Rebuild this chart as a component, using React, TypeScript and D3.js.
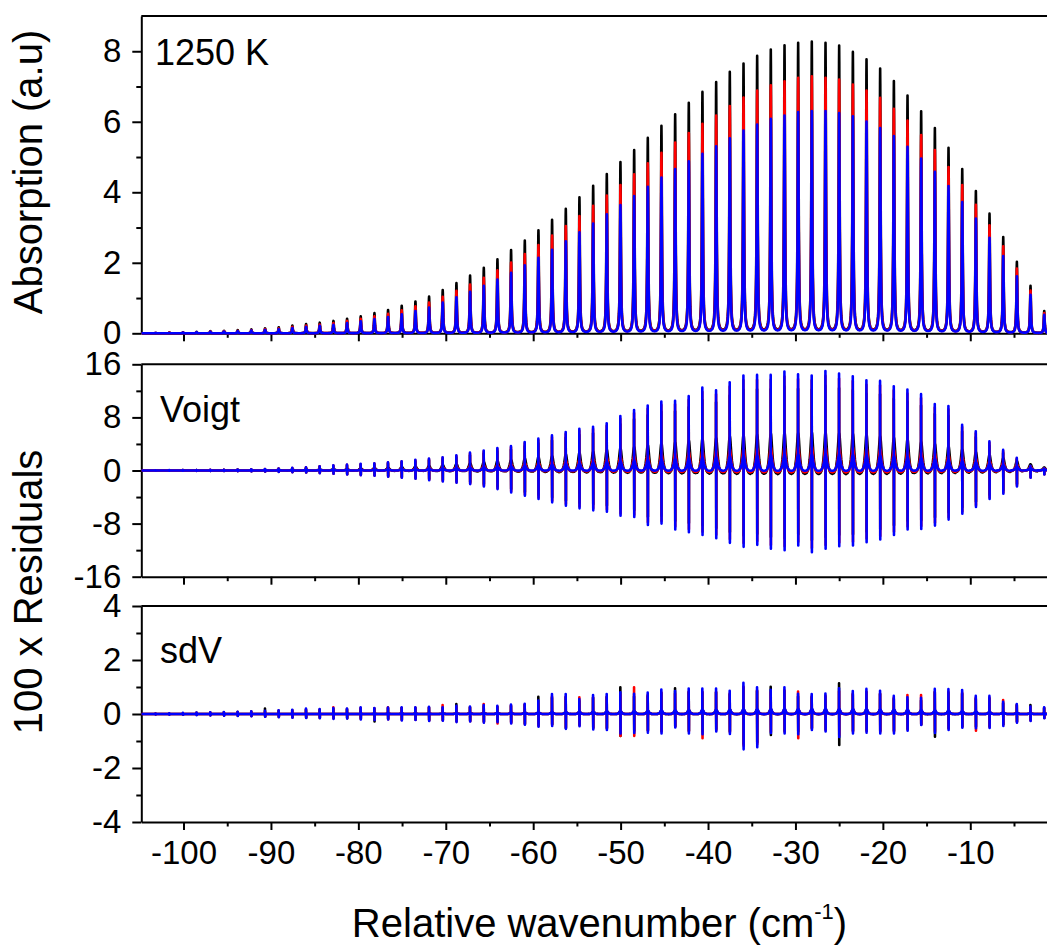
import React, { useEffect, useRef } from 'react';
import * as d3 from 'd3';

// line centres (cm-1)
const peakPositions = [-103.19, -101.62, -100.06, -98.50, -96.93, -95.37, -93.80, -92.24, -90.67, -89.11,
  -87.55, -85.98, -84.42, -82.85, -81.29, -79.73, -78.16, -76.60, -75.04, -73.47,
  -71.91, -70.35, -68.78, -67.22, -65.65, -64.09, -62.53, -60.96, -59.40, -57.84,
  -56.27, -54.71, -53.14, -51.58, -50.02, -48.45, -46.89, -45.33, -43.76, -42.20,
  -40.64, -39.07, -37.51, -35.94, -34.38, -32.82, -31.25, -29.69, -28.13, -26.56,
  -25.00, -23.43, -21.87, -20.31, -18.74, -17.18, -15.62, -14.05, -12.49, -10.92,
  -9.36, -7.80, -6.23, -4.67, -3.11, -1.54];

// peak absorption, three spectra
const absBlack = [0.01, 0.02, 0.03, 0.04, 0.06, 0.07, 0.09, 0.11, 0.14, 0.17, 0.22, 0.26, 0.30, 0.35, 0.41, 0.48, 0.57, 0.66, 0.78, 0.90, 1.04,
  1.22, 1.42, 1.63, 1.85, 2.09, 2.35, 2.62, 2.91, 3.21, 3.52, 3.84, 4.17, 4.50, 4.84, 5.18, 5.52, 5.86, 6.19, 6.51,
  6.82, 7.10, 7.39, 7.62, 7.84, 8.02, 8.14, 8.21, 8.24, 8.21, 8.13, 7.95, 7.74, 7.48, 7.13, 6.72, 6.27, 5.80, 5.24, 4.64, 4.02, 3.38, 2.72, 2.02, 1.34, 0.63];
const absRed = [0.01, 0.02, 0.02, 0.03, 0.05, 0.06, 0.07, 0.09, 0.12, 0.14, 0.18, 0.22, 0.25, 0.29, 0.35, 0.41, 0.48, 0.55, 0.65, 0.76, 0.87,
  1.03, 1.20, 1.38, 1.57, 1.78, 2.00, 2.24, 2.49, 2.76, 3.03, 3.31, 3.60, 3.89, 4.19, 4.49, 4.80, 5.10, 5.39, 5.66,
  5.92, 6.15, 6.42, 6.66, 6.86, 7.01, 7.12, 7.22, 7.26, 7.22, 7.17, 7.03, 6.86, 6.65, 6.34, 6.01, 5.60, 5.18, 4.70, 4.19, 3.63, 3.05, 2.46, 1.83, 1.21, 0.57];
const absBlue = [0.01, 0.01, 0.02, 0.03, 0.04, 0.05, 0.06, 0.08, 0.10, 0.12, 0.15, 0.18, 0.21, 0.24, 0.29, 0.34, 0.40, 0.46, 0.54, 0.63, 0.73,
  0.87, 1.02, 1.17, 1.34, 1.52, 1.71, 1.92, 2.13, 2.36, 2.60, 2.85, 3.10, 3.36, 3.62, 3.88, 4.14, 4.40, 4.64, 4.86,
  5.07, 5.28, 5.51, 5.73, 5.90, 6.06, 6.15, 6.25, 6.28, 6.28, 6.22, 6.13, 5.98, 5.80, 5.57, 5.27, 4.94, 4.56, 4.16, 3.71, 3.24, 2.70, 2.18, 1.61, 1.09, 0.52];

// Voigt residual spikes (x100)
const voigtUp = [0.03, 0.05, 0.06, 0.08, 0.10, 0.12, 0.15, 0.18, 0.22,
  0.30, 0.40, 0.50, 0.65, 0.80, 0.90, 1.00, 1.10, 1.25, 1.40, 1.60, 1.80, 2.00, 2.30, 2.70, 3.00, 3.40, 3.70, 4.30, 4.80, 5.30, 5.80, 6.30, 6.60,
  7.1, 8.2, 9.1, 9.8, 10.4, 10.5, 11.2, 12.5, 12.1, 13.3, 14.3, 14.4, 14.4, 14.9, 14.5, 14.3, 15.0, 14.6, 14.2, 13.6, 13.5, 12.7, 12.2, 11.5, 10.0, 9.7, 6.9, 5.9, 4.4, 3.1, 1.9, 0.7, 0.3];
const voigtDown = [0.02, 0.03, 0.04, 0.05, 0.06, 0.08, 0.10, 0.12, 0.15,
  0.20, 0.25, 0.30, 0.40, 0.50, 0.60, 0.70, 0.80, 0.95, 1.10, 1.25, 1.45, 1.65, 1.85, 2.05, 2.40, 2.80, 3.30, 3.80, 4.30, 4.80, 5.30, 5.70, 6.00,
  6.2, 6.8, 7.0, 8.2, 8.0, 8.9, 9.3, 9.7, 10.2, 10.9, 11.5, 11.2, 11.8, 12.0, 11.3, 12.3, 11.8, 11.4, 11.3, 10.8, 10.4, 9.7, 8.9, 8.8, 8.3, 7.4, 6.5, 5.5, 4.3, 3.5, 2.4, 1.1, 0.6];

// sdV residual spikes (x100)
const sdvBlueUp = [0.02, 0.03, 0.04, 0.05, 0.06, 0.07, 0.08, 0.10,
  0.12, 0.14, 0.16, 0.20, 0.18, 0.22, 0.20, 0.25, 0.22, 0.24, 0.25, 0.25, 0.27, 0.25, 0.30, 0.28, 0.33, 0.30, 0.35, 0.38,
  0.50, 0.74, 0.74, 0.55, 0.70, 0.74, 0.80, 0.75, 0.79, 0.91, 0.85, 0.94, 0.94, 0.94, 0.86, 1.16, 0.99, 0.90, 0.99, 0.75, 0.74, 0.76, 0.95,
  0.85, 0.93, 0.86, 0.67, 0.62, 0.60, 0.93, 0.92, 0.89, 0.67, 0.67, 0.45, 0.37, 0.28, 0.25];
const sdvBlueDown = [0.02, 0.03, 0.03, 0.04, 0.05, 0.06, 0.07, 0.08,
  0.10, 0.12, 0.14, 0.15, 0.16, 0.18, 0.17, 0.20, 0.22, 0.20, 0.24, 0.22, 0.26, 0.25, 0.30, 0.28, 0.32, 0.30, 0.35, 0.40,
  0.47, 0.44, 0.55, 0.45, 0.57, 0.59, 0.72, 0.70, 0.69, 0.72, 0.50, 0.72, 0.75, 0.65, 0.74, 1.31, 1.23, 0.70, 0.72, 0.75, 0.59, 0.65, 0.85,
  0.72, 0.69, 0.72, 0.72, 0.62, 0.41, 0.70, 0.59, 0.51, 0.53, 0.52, 0.44, 0.32, 0.26, 0.16];
const sdvBlackUp = [0.02, 0.02, 0.03, 0.04, 0.05, 0.06, 0.07, 0.08,
  0.20, 0.12, 0.14, 0.16, 0.16, 0.18, 0.18, 0.20, 0.20, 0.22, 0.22, 0.22, 0.24, 0.22, 0.37, 0.25, 0.28, 0.26, 0.30, 0.33,
  0.64, 0.60, 0.62, 0.48, 0.60, 0.62, 0.99, 0.65, 0.66, 0.78, 0.95, 0.80, 0.80, 0.80, 0.72, 0.98, 0.85, 1.01, 0.85, 0.65, 0.62, 0.65, 1.14,
  0.72, 0.80, 0.74, 0.56, 0.52, 0.50, 0.80, 0.78, 0.75, 0.56, 0.56, 0.40, 0.32, 0.33, 0.22];
const sdvBlackDown = [0.02, 0.02, 0.03, 0.03, 0.04, 0.05, 0.06, 0.07,
  0.09, 0.10, 0.12, 0.13, 0.14, 0.15, 0.15, 0.17, 0.28, 0.18, 0.20, 0.20, 0.22, 0.22, 0.26, 0.25, 0.28, 0.27, 0.30, 0.35,
  0.40, 0.38, 0.53, 0.40, 0.50, 0.52, 0.81, 0.62, 0.60, 0.62, 0.45, 0.62, 0.65, 0.56, 0.64, 1.10, 1.05, 0.78, 0.62, 0.65, 0.52, 0.56, 1.15,
  0.62, 0.60, 0.62, 0.62, 0.55, 0.38, 0.84, 0.52, 0.45, 0.46, 0.45, 0.38, 0.28, 0.22, 0.14];
const sdvRedUp = [0.02, 0.02, 0.03, 0.04, 0.05, 0.06, 0.07, 0.09,
  0.10, 0.12, 0.14, 0.17, 0.16, 0.25, 0.18, 0.22, 0.20, 0.25, 0.22, 0.23, 0.24, 0.33, 0.27, 0.25, 0.37, 0.28, 0.32, 0.35,
  0.40, 0.66, 0.64, 0.62, 0.62, 0.64, 0.72, 0.99, 0.70, 0.80, 0.76, 0.82, 0.82, 0.82, 0.76, 1.02, 0.88, 0.80, 0.88, 0.83, 0.66, 0.68, 0.84,
  0.76, 0.82, 0.76, 0.60, 0.70, 0.70, 0.82, 0.82, 0.79, 0.60, 0.60, 0.52, 0.33, 0.25, 0.22];
const sdvRedDown = [0.02, 0.02, 0.03, 0.03, 0.04, 0.05, 0.06, 0.07,
  0.09, 0.11, 0.12, 0.14, 0.15, 0.16, 0.16, 0.18, 0.20, 0.19, 0.22, 0.21, 0.24, 0.23, 0.28, 0.27, 0.30, 0.35, 0.33, 0.38,
  0.44, 0.40, 0.50, 0.42, 0.52, 0.54, 0.81, 0.81, 0.62, 0.65, 0.46, 0.65, 0.90, 0.60, 0.68, 1.18, 1.12, 0.65, 0.66, 0.90, 0.54, 0.60, 0.78,
  0.66, 0.64, 0.66, 0.66, 0.57, 0.39, 0.64, 0.54, 0.47, 0.62, 0.48, 0.40, 0.30, 0.24, 0.15];

// axes
const xDomain = [-104.83, 0];
const xMajor = [-100, -90, -80, -70, -60, -50, -40, -30, -20, -10];
const xMinor = [-95, -85, -75, -65, -55, -45, -35, -25, -15, -5];
const absMajor = [0, 2, 4, 6, 8];
const absMinor = [1, 3, 5, 7];
const voigtMajor = [-16, -8, 0, 8, 16];
const voigtMinor = [-12, -4, 4, 12];
const sdvMajor = [-4, -2, 0, 2, 4];
const sdvMinor = [-3, -1, 1, 3];

const W = 1047, H = 950;
const LEFT = 141.3, RIGHT = 1057.7;
const FONT = "'Liberation Sans', Arial, Helvetica, sans-serif";
const COLORS = { black: '#000000', red: '#ff0000', blue: '#0000ff' };

const sampleOffsets = [0.015, 0.03, 0.05, 0.08, 0.12, 0.17, 0.24, 0.33, 0.45, 0.6, 0.78];
const SPIKE = 0.012;

function lorentz(d: number, g: number) {
  return (g * g) / (d * d + g * g);
}

function cuspValue(x: number, amp: number[], gamma: number, beta: number) {
  let s = 0, near = 0, best = Infinity;
  for (let j = 0; j < peakPositions.length; j++) {
    const d = x - peakPositions[j];
    const ad = Math.abs(d);
    if (ad < 6) s += (amp[j] ?? 0) * lorentz(d, gamma);
    if (ad < best) { best = ad; near = j; }
  }
  return s - beta * (amp[near] ?? 0);
}

function buildSpectrum(heights: number[], gamma: number) {
  const pts: [number, number][] = [[xDomain[0], cuspValue(xDomain[0], heights, gamma, 0)]];
  peakPositions.forEach(p => {
    for (let i = sampleOffsets.length - 1; i >= 0; i--) pts.push([p - sampleOffsets[i], cuspValue(p - sampleOffsets[i], heights, gamma, 0)]);
    pts.push([p, cuspValue(p, heights, gamma, 0)]);
    sampleOffsets.forEach(o => pts.push([p + o, cuspValue(p + o, heights, gamma, 0)]));
  });
  pts.push([xDomain[1], cuspValue(xDomain[1], heights, gamma, 0)]);
  return pts;
}

function buildResidual(cusp: number[], up: number[], down: number[], gamma: number, beta: number) {
  const v = (x: number) => cuspValue(x, cusp, gamma, beta);
  const pts: [number, number][] = [[xDomain[0], v(xDomain[0])]];
  peakPositions.forEach((p, i) => {
    for (let k = sampleOffsets.length - 1; k >= 0; k--) pts.push([p - sampleOffsets[k], v(p - sampleOffsets[k])]);
    pts.push([p - SPIKE, up[i] ?? 0]);
    pts.push([p + SPIKE, -(down[i] ?? 0)]);
    sampleOffsets.forEach(o => pts.push([p + o, v(p + o)]));
  });
  pts.push([xDomain[1], v(xDomain[1])]);
  return pts;
}

const scaled = (a: number[], f: number) => a.map(d => d * f);

function draw(node: SVGSVGElement) {
  const svg = d3.select(node);
  svg.selectAll('*').remove();

  const x = d3.scaleLinear().domain(xDomain).range([LEFT, RIGHT]);

  const panels = [
    {
      id: 'abs', top: 16, bottom: 333.3, domain: [0, 9], major: absMajor, minor: absMinor,
      label: '1250 K', labelX: 155, labelY: 65, tickLabels: false,
      series: [
        { color: COLORS.black, pts: buildSpectrum(absBlack, 0.06) },
        { color: COLORS.red, pts: buildSpectrum(absRed, 0.06) },
        { color: COLORS.blue, pts: buildSpectrum(absBlue, 0.06) },
      ],
    },
    {
      id: 'voigt', top: 364.3, bottom: 576.7, domain: [-16, 16], major: voigtMajor, minor: voigtMinor,
      label: 'Voigt', labelX: 160, labelY: 421.7, tickLabels: false,
      series: [
        { color: COLORS.black, pts: buildResidual(scaled(absBlack, 0.85), scaled(voigtUp, 0.85), scaled(voigtDown, 0.85), 0.2, 0.22) },
        { color: COLORS.red, pts: buildResidual(scaled(absRed, 0.6), scaled(voigtUp, 0.95), scaled(voigtDown, 0.95), 0.2, 0.21) },
        { color: COLORS.blue, pts: buildResidual(scaled(absBlue, 0.45), voigtUp, voigtDown, 0.2, 0.16) },
      ],
    },
    {
      id: 'sdv', top: 606, bottom: 822, domain: [-4, 4], major: sdvMajor, minor: sdvMinor,
      label: 'sdV', labelX: 160, labelY: 662.7, tickLabels: true,
      series: [
        { color: COLORS.black, pts: buildResidual(scaled(absBlack, 0.025), sdvBlackUp, sdvBlackDown, 0.15, 0.1) },
        { color: COLORS.red, pts: buildResidual(scaled(absRed, 0.025), sdvRedUp, sdvRedDown, 0.15, 0.1) },
        { color: COLORS.blue, pts: buildResidual(scaled(absBlue, 0.035), sdvBlueUp, sdvBlueDown, 0.15, 0.1) },
      ],
    },
  ];

  const defs = svg.append('defs');

  panels.forEach(pn => {
    const y = d3.scaleLinear().domain(pn.domain).range([pn.bottom, pn.top]);
    const g = svg.append('g').attr('class', pn.id);

    // y axis, major + minor
    g.append('g')
      .attr('transform', `translate(${LEFT},0)`)
      .call(d3.axisLeft(y).tickValues(pn.major).tickSize(9).tickSizeOuter(0).tickPadding(11).tickFormat(d => String(d)));
    g.append('g')
      .attr('class', 'minor')
      .attr('transform', `translate(${LEFT},0)`)
      .call(d3.axisLeft(y).tickValues(pn.minor).tickSize(5).tickSizeOuter(0).tickFormat(() => ''));

    // x axis, major + minor
    g.append('g')
      .attr('transform', `translate(0,${pn.bottom})`)
      .call(d3.axisBottom(x).tickValues(xMajor).tickSize(8).tickSizeOuter(0).tickPadding(11)
        .tickFormat(d => (pn.tickLabels ? String(d) : '')));
    g.append('g')
      .attr('class', 'minor')
      .attr('transform', `translate(0,${pn.bottom})`)
      .call(d3.axisBottom(x).tickValues(xMinor).tickSize(4.5).tickSizeOuter(0).tickFormat(() => ''));

    g.selectAll('.minor .domain').remove();

    // top border
    g.append('line')
      .attr('x1', LEFT).attr('x2', RIGHT)
      .attr('y1', pn.top).attr('y2', pn.top)
      .attr('stroke', '#000').attr('stroke-width', 2);

    // data
    defs.append('clipPath').attr('id', `clip-${pn.id}`)
      .append('rect')
      .attr('x', LEFT).attr('y', pn.top)
      .attr('width', RIGHT - LEFT).attr('height', pn.bottom - pn.top + 2);

    const line = d3.line<[number, number]>()
      .x(d => x(d[0]))
      .y(d => y(d[1]));

    const dataG = g.append('g').attr('clip-path', `url(#clip-${pn.id})`);
    pn.series.forEach(s => {
      dataG.append('path')
        .attr('d', line(s.pts))
        .attr('fill', 'none')
        .attr('stroke', s.color)
        .attr('stroke-width', 2.6)
        .attr('stroke-linejoin', 'round');
    });

    g.append('text')
      .attr('x', pn.labelX).attr('y', pn.labelY)
      .attr('font-size', 36)
      .attr('font-family', FONT)
      .text(pn.label);
  });

  svg.selectAll('.domain').attr('stroke', '#000').attr('stroke-width', 2);
  svg.selectAll('.tick line').attr('stroke', '#000').attr('stroke-width', 2);
  svg.selectAll('.tick text').attr('font-size', 33).attr('font-family', FONT).attr('fill', '#000');

  // axis titles
  svg.append('text')
    .attr('transform', 'translate(42,172) rotate(-90)')
    .attr('text-anchor', 'middle')
    .attr('font-size', 40).attr('font-family', FONT)
    .text('Absorption (a.u)');
  svg.append('text')
    .attr('transform', 'translate(42,592) rotate(-90)')
    .attr('text-anchor', 'middle')
    .attr('font-size', 40).attr('font-family', FONT)
    .text('100 x Residuals');

  const xt = svg.append('text')
    .attr('x', (LEFT + RIGHT) / 2).attr('y', 936.7)
    .attr('text-anchor', 'middle')
    .attr('font-size', 40).attr('font-family', FONT);
  xt.append('tspan').text('Relative wavenumber (cm');
  xt.append('tspan').attr('dy', -18).attr('font-size', 22).text('-1');
  xt.append('tspan').attr('dy', 18).text(')');
}

export default function App() {
  const ref = useRef<SVGSVGElement>(null);
  useEffect(() => {
    if (ref.current) draw(ref.current);
  }, []);
  return (
    <svg ref={ref} width={W} height={H}
      style={{ position: 'absolute', left: 0, top: 0, background: '#fff' }} />
  );
}
